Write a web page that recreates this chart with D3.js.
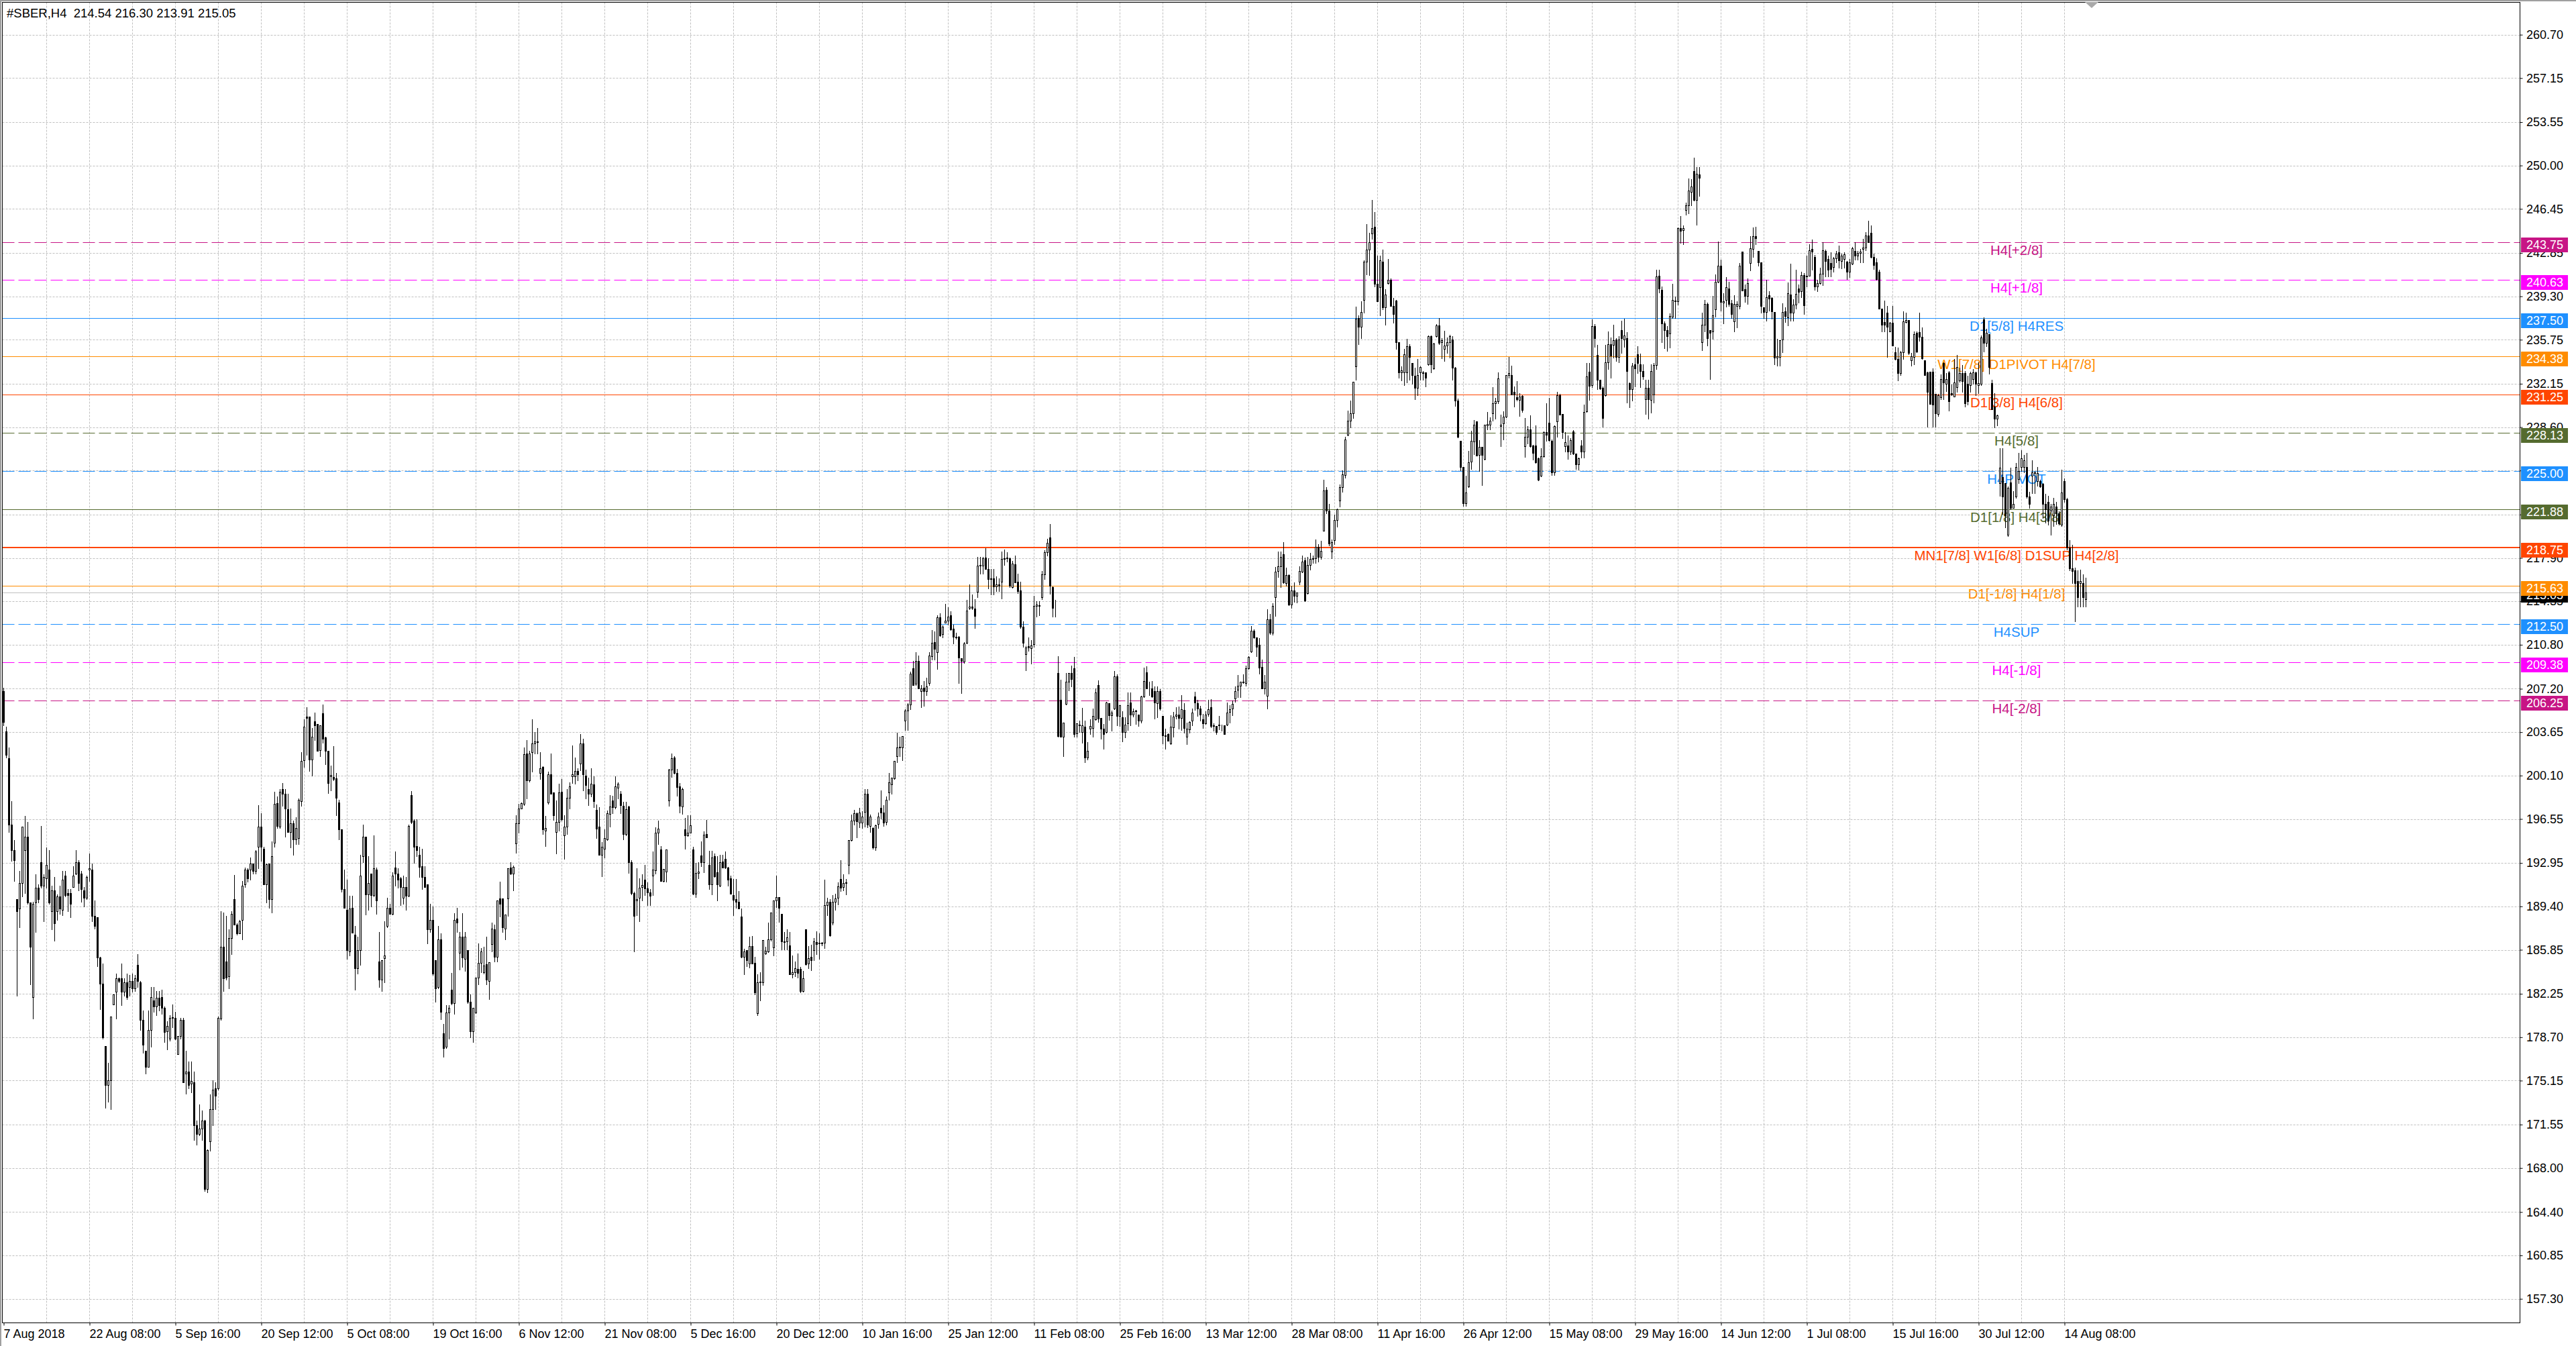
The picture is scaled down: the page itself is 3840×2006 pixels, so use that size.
<!DOCTYPE html>
<html>
<head>
<meta charset="utf-8">
<script src="https://d3js.org/d3.v7.min.js"></script>
<style>
body { margin: 0; background: #fff; }
text { font-family: "Liberation Sans", Arial, sans-serif; }
</style>
</head>
<body>
<div id="chart"></div>
<script>
// #SBER H4 bars, one row = 10 bars
var symbolName = "#SBER,H4";
var barOpen = [
207.0,203.7,201.5,196.1,194.0,190.0,189.2,191.3,194.0,195.1,
189.7,182.0,189.7,190.9,193.0,191.1,191.7,192.4,189.0,190.7,
189.0,190.2,189.1,191.9,190.5,190.5,191.0,192.1,193.0,192.1,
190.7,190.1,192.4,192.4,188.6,188.5,185.2,183.1,178.0,174.8,
175.2,181.4,182.4,183.5,183.5,182.4,183.2,182.8,183.3,182.7,
184.6,183.2,180.1,177.6,176.3,179.3,181.7,181.2,181.9,182.0,
181.1,179.2,178.6,180.3,180.3,177.3,178.8,180.1,175.7,175.9,
174.9,175.0,171.5,170.8,171.2,171.9,166.3,170.2,172.8,174.5,
174.5,180.2,186.1,184.9,183.7,186.8,190.0,187.9,187.2,188.3,
191.2,192.4,192.4,192.9,192.3,194.3,195.9,194.1,191.2,192.9,
190.0,194.6,197.85,195.9,199.0,198.6,197.35,195.5,196.2,194.9,
195.0,198.0,201.35,204.9,204.9,201.4,204.55,204.3,202.2,205.2,
203.2,202.1,200.05,200.0,199.9,197.9,195.7,190.8,189.1,185.7,
189.3,187.1,184.35,185.8,193.5,195.1,190.4,192.1,190.3,192.4,
184.9,183.4,185.15,187.8,189.3,188.8,192.6,192.1,191.7,190.1,
191.0,190.25,198.5,196.4,194.35,193.6,192.7,191.8,191.2,187.5,
188.3,185.0,182.8,186.7,179.0,177.9,180.7,182.6,181.5,188.4,
185.6,186.9,185.1,185.8,181.6,179.2,180.7,183.6,184.8,184.0,
184.65,183.3,186.3,187.55,185.3,190.06,190.06,187.6,190.06,192.56,
192.07,194.55,196.2,197.4,197.8,201.9,199.7,202.0,202.7,202.9,
200.3,200.8,195.6,197.9,200.2,198.7,195.5,196.3,198.8,195.2,
195.9,198.3,200.05,200.05,200.5,201.1,202.7,200.1,199.0,198.6,
199.4,197.3,195.9,193.6,194.1,194.9,196.95,198.05,197.5,199.1,
198.6,197.6,195.3,197.55,193.0,190.5,189.9,190.1,191.0,191.6,
190.85,190.55,191.9,192.35,195.45,194.05,191.5,192.25,198.05,200.6,
201.55,200.3,199.2,197.55,195.7,195.2,195.4,194.05,190.45,192.15,
193.55,193.0,195.3,192.8,191.2,193.5,192.2,191.1,193.05,193.3,
192.6,191.7,190.35,190.0,189.75,188.55,185.3,185.8,184.7,186.15,
184.8,180.65,183.2,183.2,185.55,185.7,186.7,186.05,189.9,190.15,
188.8,186.5,186.55,186.2,183.85,184.0,184.3,184.3,182.5,187.5,
184.7,185.3,185.8,186.5,186.35,186.4,186.4,189.5,189.8,188.1,
189.75,190.1,191.65,191.0,191.35,192.8,194.8,196.4,197.0,196.25,
196.25,197.15,198.6,196.0,195.8,194.2,196.15,197.45,197.05,196.3,
198.7,199.4,199.85,201.7,202.4,202.4,204.6,205.4,205.9,208.9,
207.6,209.5,207.0,207.3,207.0,207.65,209.85,211.0,210.2,213.05,
211.65,212.6,212.75,213.2,212.1,211.45,211.45,209.7,209.45,210.95,
213.8,213.95,213.75,215.15,217.3,217.25,217.95,217.0,216.15,216.25,
215.55,215.75,215.95,217.8,217.95,217.9,215.5,217.4,215.95,215.25,
212.3,210.05,210.7,210.5,210.85,214.0,214.0,214.7,216.55,218.35,
219.6,215.5,213.95,208.5,206.3,203.3,205.95,207.8,208.5,208.85,
203.55,204.25,203.65,204.1,201.55,203.95,204.0,204.7,207.5,204.8,
203.95,203.65,206.0,205.05,205.6,208.2,205.0,204.85,203.65,204.4,
206.1,205.1,205.4,205.1,204.6,206.55,208.55,207.25,207.25,207.0,
206.0,207.0,204.95,203.4,203.5,202.75,204.05,204.95,205.1,204.8,
205.45,203.25,203.9,204.6,206.55,206.0,205.6,204.7,204.4,205.15,
205.7,204.2,204.15,204.2,204.2,204.2,204.25,205.3,205.6,206.4,
207.1,207.45,207.7,207.65,208.85,210.25,211.95,211.4,210.8,209.0,
207.25,206.65,212.9,211.8,214.7,216.85,217.2,218.2,215.85,216.5,
214.1,215.25,214.8,215.95,216.8,217.7,215.0,217.35,217.8,217.85,
218.8,218.0,220.15,223.45,221.75,218.4,219.35,221.0,222.6,223.7,
224.7,228.0,229.15,229.75,233.55,237.5,236.8,239.0,242.15,243.1,
244.45,245.0,240.3,240.05,242.15,238.4,240.35,240.65,238.5,238.95,
235.55,233.05,233.05,233.05,235.2,233.85,232.8,231.8,233.05,233.05,
233.05,233.75,236.05,233.4,236.05,236.9,235.55,235.0,235.25,235.55,
235.75,233.45,230.75,227.5,225.35,222.4,223.75,225.8,227.45,229.05,
226.35,227.0,226.0,228.75,228.8,229.75,230.55,230.7,228.7,228.9,
229.45,232.85,232.85,231.5,231.05,230.8,231.15,227.05,227.8,228.4,
227.1,227.1,226.05,224.6,226.2,228.2,228.95,227.5,224.9,229.05,
231.2,229.7,227.05,227.1,226.6,228.25,226.45,225.55,227.1,226.6,
229.9,233.15,232.05,236.85,234.5,232.45,231.8,231.2,233.9,235.4,
235.35,235.75,234.35,236.55,235.75,235.9,232.2,231.7,233.75,234.55,
233.75,233.2,230.9,231.8,230.85,231.25,233.7,241.0,239.85,237.1,
236.55,236.25,237.65,238.9,238.9,244.85,244.7,246.35,246.75,247.85,
249.55,247.2,249.25,235.55,236.95,238.65,236.55,236.45,238.25,240.5,
241.8,238.8,239.0,239.95,238.75,237.25,238.5,238.5,242.95,239.9,
239.35,242.0,243.2,244.2,243.0,242.1,238.4,238.0,239.4,239.15,
238.0,234.3,234.35,235.75,238.05,237.6,239.45,237.95,238.6,239.95,
239.7,241.05,240.95,241.0,243.2,242.5,240.1,240.4,241.15,243.0,
242.35,242.0,241.7,242.4,242.9,242.2,242.35,242.15,241.3,241.95,
243.0,242.65,242.85,243.15,243.3,244.25,244.5,242.5,242.1,241.3,
238.3,237.2,237.95,236.45,237.15,234.75,234.15,233.0,234.75,237.2,
237.35,234.05,234.35,236.3,236.35,236.0,234.05,233.1,233.15,233.15,
231.3,229.65,231.05,233.85,232.15,233.1,231.35,231.1,231.85,232.4,
233.0,233.0,232.15,232.05,232.55,233.1,232.05,232.15,237.4,235.5,
236.2,232.2,230.3,229.3,224.0,224.5,224.02,219.79,224.08,221.99,
222.93,224.35,225.34,225.34,225.34,222.93,224.6,224.92,224.2,224.2,
223.98,222.3,222.51,221.78,221.36,222.1,221.57,220.63,224.2,222.72,
218.75,217.07,216.86,216.03,215.82,215.82,214.54
];
var barHigh = [
207.3,204.1,202.4,198.0,194.8,190.0,192.3,195.9,196.8,196.3,
189.7,189.8,192.0,191.2,196.0,192.0,194.2,194.0,191.1,191.8,
190.4,191.1,192.3,192.3,190.8,190.8,192.7,194.0,193.2,192.3,
191.0,191.9,193.7,192.9,189.9,188.5,185.3,184.7,178.0,176.6,
180.4,182.2,183.9,183.6,184.7,183.5,183.9,183.8,183.9,183.8,
185.5,183.3,180.9,177.6,180.9,182.8,182.8,182.5,182.5,182.6,
181.2,180.0,180.5,181.4,180.8,178.8,180.3,180.3,177.6,176.7,
176.7,175.9,171.9,173.2,172.7,171.95,169.5,174.0,175.2,175.0,
180.4,189.0,188.9,188.6,187.5,189.0,191.95,188.0,188.3,191.5,
192.6,192.5,193.4,192.9,194.0,197.7,197.0,194.3,192.9,192.9,
194.7,198.8,198.4,199.0,199.5,199.0,198.6,197.4,196.4,196.7,
198.2,202.0,204.7,205.7,204.9,204.0,205.25,204.3,204.2,205.9,
203.3,202.1,200.9,202.5,200.3,198.1,195.7,192.4,191.6,190.25,
190.25,187.8,186.9,193.6,196.1,195.1,193.5,192.1,195.2,192.6,
187.3,184.98,188.2,190.1,189.6,192.2,193.9,192.5,191.8,191.9,
191.8,196.1,198.85,196.5,196.5,194.3,194.1,192.7,191.2,189.6,
189.4,185.0,187.8,187.2,179.8,181.3,181.3,183.96,188.85,189.3,
187.3,188.85,187.3,185.8,182.2,181.1,183.6,186.35,186.0,186.1,
186.9,184.84,188.1,187.9,189.9,191.4,190.06,188.75,192.5,193.0,
192.75,196.85,197.8,197.9,202.4,203.0,202.1,204.7,203.65,204.0,
202.0,200.85,196.8,200.4,201.9,198.7,198.05,199.45,199.8,196.85,
199.0,199.55,202.55,201.55,200.7,203.5,203.1,200.6,199.95,200.7,
200.05,197.75,197.5,194.65,195.7,197.25,198.5,198.45,200.05,199.55,
198.85,197.95,197.95,197.6,193.15,190.6,192.5,191.7,192.0,192.8,
191.35,190.8,193.9,195.85,196.4,194.35,192.45,194.05,200.65,201.9,
201.7,200.65,199.5,199.1,196.65,196.85,196.85,194.25,192.95,193.0,
194.7,195.55,196.45,193.95,193.95,193.7,193.5,193.6,193.6,193.9,
192.65,191.9,191.65,191.65,190.65,189.2,185.95,185.8,186.9,187.0,
185.3,183.85,184.0,186.65,186.1,188.1,188.9,189.9,191.9,190.15,
188.8,187.3,187.5,187.3,185.4,184.9,185.55,184.45,184.1,187.5,
186.15,186.25,186.8,187.35,187.2,186.5,191.6,190.1,190.0,190.3,
190.45,191.35,193.15,192.0,191.65,194.85,196.9,197.3,197.05,197.45,
197.2,199.0,199.0,196.9,195.85,196.1,197.05,198.9,197.7,198.4,
200.3,199.95,201.3,203.6,203.3,203.35,205.5,206.0,208.6,209.5,
210.2,209.9,207.5,207.85,208.1,210.2,212.0,211.9,213.2,213.4,
212.4,214.15,213.85,213.55,212.45,211.8,211.5,209.7,211.0,214.45,
215.75,214.9,214.5,218.0,218.0,218.0,218.7,217.85,217.0,217.0,
216.4,216.25,218.45,218.6,218.35,217.95,217.65,218.1,216.6,215.95,
212.7,210.7,211.4,211.2,214.8,214.35,214.35,216.85,218.55,219.45,
220.65,215.55,214.45,209.85,207.95,204.45,208.5,208.5,209.1,209.8,
204.35,204.6,205.65,204.6,202.85,204.7,205.6,207.2,207.9,204.8,
204.3,206.15,206.0,205.4,208.65,208.4,205.85,205.35,204.85,206.9,
206.9,205.6,205.45,205.1,206.6,208.95,209.05,207.8,207.85,207.4,
207.4,207.15,204.95,203.95,203.55,205.05,205.3,205.7,205.75,206.7,
206.0,204.45,204.55,205.6,206.95,206.3,205.8,205.15,205.35,206.3,
206.35,204.4,204.15,204.95,204.25,204.2,206.1,205.85,206.25,207.4,
208.3,207.8,208.4,209.1,209.85,212.35,212.05,211.4,211.35,209.6,
208.3,213.7,213.3,214.2,217.15,218.45,218.45,219.2,217.1,216.55,
215.6,215.9,215.1,217.2,218.1,217.95,218.0,218.3,218.1,219.4,
219.0,219.3,224.3,223.7,222.3,219.4,221.45,221.95,223.9,225.05,
227.8,229.95,230.75,232.3,238.45,237.75,238.9,242.25,245.2,244.5,
247.2,246.2,242.65,242.6,243.1,239.9,242.35,240.75,239.15,239.0,
235.55,233.55,235.0,235.8,235.4,233.85,233.45,234.15,233.55,233.2,
233.1,236.1,236.1,235.5,237.05,237.55,235.9,236.5,235.95,236.15,
236.05,233.5,230.95,227.5,225.35,224.65,226.65,228.3,229.2,229.05,
227.55,227.0,228.8,229.85,229.4,231.85,231.0,233.05,229.6,229.9,
232.85,234.35,233.65,231.95,232.35,231.4,231.2,229.35,228.7,229.55,
227.15,228.75,226.1,226.85,228.25,230.55,231.0,227.6,228.75,231.5,
231.3,229.7,228.2,227.9,227.7,228.35,226.45,226.1,227.55,230.45,
233.85,233.85,237.4,237.05,235.35,232.5,231.95,235.35,236.45,235.95,
237.0,235.9,236.05,237.3,237.45,236.35,232.25,233.85,234.3,235.2,
234.6,233.75,232.45,232.45,233.75,233.85,241.5,241.5,240.1,237.25,
236.85,237.9,240.3,239.3,244.95,245.85,245.1,246.95,248.95,248.9,
250.65,249.85,249.85,237.95,239.0,238.8,236.55,239.35,241.1,243.8,
242.3,239.55,240.85,240.5,239.0,239.4,238.9,242.0,242.95,240.25,
240.75,244.2,244.95,245.0,243.0,242.1,238.4,240.65,239.7,239.25,
238.0,235.8,235.7,238.75,238.4,240.45,241.95,239.05,241.45,240.25,
241.3,241.2,242.6,243.55,243.95,242.7,240.65,241.65,243.75,243.1,
242.65,242.9,242.5,243.0,243.45,242.8,242.9,242.2,242.35,243.35,
243.7,243.0,243.15,244.0,244.55,245.5,245.1,242.8,242.4,241.45,
238.3,238.95,238.5,237.2,238.5,235.15,235.1,234.85,238.05,237.95,
237.35,234.65,236.45,236.45,237.95,236.75,234.05,233.15,233.15,233.4,
231.3,231.3,232.9,233.9,233.0,233.2,232.1,234.2,234.5,233.45,
233.7,233.2,232.8,233.15,233.35,233.15,233.9,236.1,237.6,236.65,
236.2,232.45,231.4,229.6,226.9,226.87,224.02,223.76,225.3,223.35,
225.65,226.5,226.7,226.3,226.49,223.3,225.9,225.0,225.34,224.3,
224.0,223.14,223.0,222.3,222.83,222.5,221.7,225.1,224.4,222.8,
219.37,218.96,217.1,216.86,216.96,216.54,216.30
];
var barLow = [
204.2,201.6,195.5,193.1,191.5,182.1,187.7,190.2,190.5,189.6,
183.0,180.2,187.3,189.7,190.9,188.2,190.9,189.6,187.5,186.6,
188.3,188.8,188.7,190.2,189.0,188.5,191.0,192.0,190.7,189.8,
189.4,190.0,191.5,188.2,187.6,184.5,181.0,178.6,172.9,173.4,
172.8,181.4,180.2,183.2,181.3,182.1,181.8,182.1,182.4,182.5,
182.8,179.3,177.4,175.7,176.3,177.9,180.8,180.5,180.9,180.6,
178.3,177.7,178.4,179.5,178.5,177.3,178.6,175.0,174.1,174.5,
174.2,170.3,169.9,170.7,170.3,166.1,166.0,169.4,171.5,172.8,
174.4,180.1,182.5,183.4,182.7,185.5,187.9,187.1,187.2,186.7,
191.0,191.4,191.6,192.1,192.1,192.5,193.1,191.2,189.7,189.3,
188.9,194.3,195.8,195.8,197.6,195.1,195.5,194.2,193.6,194.5,
194.5,197.6,200.8,201.8,200.5,200.1,203.0,202.1,201.7,202.8,
201.05,198.65,198.9,199.7,196.85,194.9,190.6,189.3,185.1,185.4,
187.25,182.6,183.9,184.6,193.0,188.75,189.1,189.4,190.2,188.8,
182.8,182.5,183.2,187.7,188.8,188.75,191.1,190.9,189.5,189.6,
189.1,190.2,196.2,192.95,193.5,191.8,190.8,191.0,186.35,187.3,
183.8,181.6,182.7,180.15,177.1,177.8,178.6,181.4,180.6,187.3,
184.25,184.45,184.1,181.5,178.7,178.3,180.65,183.0,184.0,183.9,
183.0,181.8,185.7,184.9,184.9,188.55,187.3,186.7,188.6,192.0,
190.7,193.8,195.4,197.4,197.7,198.2,199.6,200.4,201.9,201.9,
199.8,195.3,194.35,197.8,198.6,196.45,193.7,195.6,196.4,193.3,
195.3,197.4,199.5,199.45,199.7,200.55,198.9,198.2,197.7,198.4,
197.5,195.0,193.6,191.85,193.4,194.8,195.9,197.0,197.4,198.2,
197.0,194.9,195.2,192.15,190.4,185.7,188.7,188.2,189.9,190.3,
189.5,189.5,190.3,192.1,194.5,191.5,191.4,191.4,197.6,200.0,
200.25,198.45,197.1,196.95,194.1,195.15,195.4,190.4,190.15,191.7,
192.7,192.2,195.05,190.8,190.4,191.8,189.9,191.05,192.6,192.5,
191.1,190.45,188.65,189.3,189.2,185.2,183.85,184.5,184.4,184.75,
182.2,180.5,181.7,182.95,185.5,185.65,186.6,185.4,189.35,188.15,
185.9,185.9,185.9,183.85,183.6,183.7,183.6,182.35,182.4,184.6,
184.35,184.2,185.0,185.5,185.1,186.2,186.0,188.7,187.0,187.9,
189.1,189.55,190.65,190.7,190.4,192.1,194.75,196.1,195.05,195.85,
195.8,195.9,195.85,195.5,194.1,194.0,195.8,196.6,196.0,196.1,
198.1,198.6,199.8,201.2,201.7,201.35,203.85,203.85,205.5,207.5,
207.5,207.2,205.7,205.8,206.7,207.5,209.6,209.6,208.8,211.5,
211.4,212.6,212.45,212.0,210.9,211.3,207.65,206.85,209.3,210.9,
213.7,213.7,212.15,214.7,216.6,216.6,217.0,215.4,214.9,214.9,
215.2,215.2,214.6,217.3,217.6,215.5,215.45,215.9,215.0,212.15,
210.65,208.7,210.3,209.25,210.65,213.1,213.2,214.55,216.15,218.1,
214.95,213.1,213.1,203.3,203.25,201.7,205.9,207.05,207.4,203.3,
203.25,203.65,202.8,201.2,201.4,203.5,203.25,204.65,204.5,203.1,
202.3,203.6,204.65,203.75,205.55,204.2,204.15,202.9,203.2,203.85,
204.2,204.9,204.3,204.15,204.45,206.5,207.2,206.7,206.5,204.75,
204.85,205.45,202.75,202.3,202.95,202.65,203.25,204.75,203.95,203.8,
203.6,202.65,203.6,204.2,205.45,204.95,204.6,204.0,204.3,204.95,
204.05,203.75,203.5,203.9,203.75,203.5,204.2,204.45,205.05,206.15,
206.5,206.5,207.65,207.45,208.8,210.2,211.35,209.85,208.45,207.25,
206.8,205.6,211.7,211.6,213.15,216.35,215.5,215.85,215.6,214.05,
213.8,214.3,214.25,215.75,216.7,214.35,214.95,216.95,217.5,217.5,
217.6,217.8,220.1,221.55,218.9,217.9,219.0,220.45,222.1,223.3,
224.45,227.9,228.55,229.35,232.45,235.4,235.9,237.95,241.1,241.05,
244.0,240.1,238.9,237.75,238.25,236.95,240.3,238.5,237.15,235.0,
232.65,232.4,232.05,232.25,232.45,232.15,230.9,231.2,232.5,232.5,
231.9,233.7,233.1,233.35,236.0,235.4,234.25,234.0,234.65,234.3,
232.5,230.35,227.75,225.05,222.15,222.15,223.7,225.15,226.4,226.25,
225.0,223.85,225.95,228.4,228.4,229.15,229.3,230.55,227.05,227.6,
229.4,232.65,231.25,230.3,230.75,229.5,229.85,226.15,227.25,227.0,
225.95,225.65,224.25,224.55,226.15,227.5,227.5,224.7,224.7,227.8,
229.6,227.7,226.6,226.0,226.4,226.4,225.2,225.1,226.1,226.1,
229.85,230.8,231.85,235.15,231.7,231.7,228.65,231.15,233.35,232.65,
234.3,234.0,233.9,234.65,235.15,230.6,230.25,230.75,231.9,233.0,
231.85,232.55,229.65,229.3,229.8,230.6,233.35,239.6,235.55,235.05,
234.85,235.1,237.55,237.55,238.6,243.65,243.55,246.0,246.1,246.75,
247.15,245.15,247.5,234.9,236.4,235.3,232.55,235.8,237.65,240.45,
238.1,237.1,238.45,238.5,237.55,236.4,236.75,238.3,239.75,238.85,
238.7,241.4,242.5,243.55,241.8,237.95,237.5,237.3,238.15,237.45,
233.75,233.65,233.6,234.75,237.2,236.9,237.3,237.3,238.3,238.8,
239.2,237.85,240.1,241.0,241.45,239.85,239.7,240.3,240.2,240.9,
240.95,240.9,241.3,242.1,241.65,241.6,241.65,240.7,240.85,241.9,
242.3,242.3,242.1,242.1,243.05,243.7,242.45,241.55,240.65,238.3,
236.45,236.45,234.35,236.45,235.3,234.1,232.4,232.85,234.2,237.15,
234.55,233.6,233.75,234.75,235.65,234.15,232.85,228.65,230.5,228.65,
228.65,229.5,230.9,230.9,231.55,229.95,231.2,231.1,231.5,232.3,
231.5,230.3,230.45,231.5,232.15,231.2,231.35,232.05,234.8,235.2,
232.95,230.05,228.6,228.75,223.0,221.47,220.38,219.69,221.9,221.99,
222.83,224.0,225.0,224.9,222.83,221.99,223.2,223.2,223.8,223.7,
221.15,220.76,220.6,219.8,220.5,220.7,220.6,220.5,222.5,218.6,
216.86,215.82,212.7,213.93,213.93,213.93,213.91
];
var barClose = [
204.5,201.8,196.1,194.0,193.2,189.0,191.3,195.9,195.1,189.7,
186.1,189.6,190.9,190.0,191.1,191.8,192.8,189.7,190.7,188.0,
190.2,189.2,191.6,190.3,190.3,189.6,191.9,193.0,191.3,190.8,
190.1,191.8,192.5,188.6,187.8,185.2,183.1,178.7,174.8,175.2,
180.4,182.2,183.5,183.3,182.4,183.2,182.0,183.3,182.7,183.5,
183.3,180.1,178.1,176.3,179.3,182.0,181.2,181.9,181.3,181.1,
179.1,179.6,180.3,180.35,178.6,178.8,180.1,175.0,175.9,174.8,
175.1,171.5,170.8,171.2,171.9,166.3,169.45,172.8,174.4,173.9,
180.3,186.1,183.5,183.6,186.8,188.8,187.9,187.2,188.2,191.1,
192.4,191.7,192.9,192.3,193.9,195.9,194.3,191.2,192.85,190.0,
193.5,197.8,196.0,198.8,198.6,197.4,195.5,196.2,194.9,195.8,
198.1,201.3,204.1,204.8,201.4,203.3,204.2,202.1,204.2,203.1,
202.1,199.5,200.15,199.8,198.3,195.7,190.8,189.3,185.8,189.2,
187.25,184.35,185.8,191.9,195.1,190.4,191.3,190.3,192.5,189.9,
183.4,184.98,185.4,189.3,188.8,191.9,192.1,191.6,191.0,191.0,
190.25,196.0,196.3,194.3,194.0,192.65,191.8,191.0,187.5,188.3,
183.9,182.7,186.7,180.8,177.8,180.7,181.1,181.5,188.3,188.1,
186.9,185.2,186.9,181.6,179.2,181.1,183.6,184.8,185.7,184.55,
183.4,184.84,187.6,185.3,189.86,189.6,187.7,188.75,192.5,192.07,
192.65,196.2,197.4,197.85,201.85,199.7,201.9,202.7,202.9,202.85,
200.7,195.7,195.8,200.2,198.6,196.85,196.3,198.7,196.5,195.9,
198.3,199.2,200.2,200.5,200.2,202.7,200.2,199.3,198.6,199.45,
198.0,195.75,193.6,194.3,195.0,197.0,197.55,197.5,199.2,199.45,
197.7,195.3,197.35,193.0,190.5,188.6,190.0,190.95,191.15,190.85,
190.55,190.25,192.4,195.45,195.75,191.5,192.45,194.05,200.6,201.5,
200.3,199.15,197.6,199.0,195.2,195.45,196.05,190.45,192.15,192.25,
193.0,195.25,195.05,191.2,193.4,191.85,191.2,193.0,192.6,192.6,
191.6,190.45,189.95,189.8,189.2,185.3,185.7,185.0,186.15,184.75,
182.35,183.2,183.25,186.65,185.75,186.7,188.9,189.9,190.15,189.3,
186.55,186.55,186.85,183.85,184.0,184.35,183.95,182.45,183.5,184.65,
185.15,185.0,186.55,186.3,186.45,186.35,189.5,189.8,187.05,189.75,
190.05,191.05,190.95,191.3,191.3,194.8,196.4,197.0,196.35,197.05,
196.75,198.6,196.1,196.75,194.2,196.05,196.75,197.05,196.25,198.1,
199.55,199.95,201.3,202.4,202.45,203.35,205.4,205.9,208.45,207.5,
209.5,207.2,207.25,207.0,207.4,209.9,210.95,210.45,213.05,211.55,
212.3,212.75,213.1,212.05,211.45,211.4,209.75,209.5,210.9,213.6,
213.9,213.8,213.15,217.25,217.25,217.9,217.0,216.2,216.25,215.55,
215.75,215.6,217.8,217.85,217.85,215.6,217.45,215.9,215.2,212.3,
210.95,210.55,210.6,210.75,214.0,214.1,214.05,216.55,218.35,219.15,
215.6,213.8,213.9,203.35,203.25,204.45,207.75,208.5,208.0,203.5,
204.35,204.2,204.2,201.6,202.1,204.15,204.95,206.9,204.75,203.95,
203.5,206.05,205.05,205.25,208.2,204.95,205.85,203.65,204.25,205.85,
205.1,205.35,205.35,204.6,206.55,207.85,207.25,207.2,206.55,206.05,
207.0,205.6,203.4,203.35,202.95,204.1,204.9,205.1,204.8,205.5,
204.0,203.95,204.5,205.25,206.05,205.6,205.1,204.4,205.1,205.5,
204.15,204.15,203.65,204.25,204.2,203.5,205.25,205.5,205.95,207.0,
207.45,207.8,207.75,208.85,209.8,211.95,211.4,210.65,208.95,207.25,
207.75,212.9,211.8,214.0,216.8,217.2,218.0,215.9,216.5,214.1,
215.25,214.8,215.05,216.85,217.6,214.4,217.35,217.8,217.85,218.8,
218.0,218.5,223.4,221.75,219.1,219.2,221.0,221.9,223.7,224.75,
227.6,229.15,229.75,232.3,237.45,236.8,238.0,242.15,243.1,243.7,
244.9,240.3,238.9,242.25,238.4,239.45,240.65,238.5,237.85,235.55,
233.05,233.25,234.55,235.2,234.35,232.85,231.8,232.85,233.5,233.0,
232.65,236.05,233.75,235.45,236.9,235.5,235.7,235.25,235.55,236.05,
233.45,230.75,227.8,225.35,222.4,223.25,225.75,227.5,228.8,226.25,
227.0,226.35,228.8,228.85,229.15,230.55,230.7,232.6,228.8,229.45,
232.85,233.0,231.25,231.25,230.9,231.1,230.0,227.8,228.4,227.05,
226.5,225.7,224.3,226.2,228.2,227.95,227.55,224.9,228.7,231.2,
229.6,228.2,227.35,226.6,227.55,226.45,225.55,226.05,226.6,229.85,
232.75,232.0,236.85,235.9,232.45,231.75,229.35,233.9,235.4,234.45,
235.7,234.35,235.75,235.85,236.1,233.2,231.7,233.65,233.4,233.85,
233.2,232.75,231.8,230.9,233.2,233.7,240.95,239.95,237.1,236.55,
236.05,237.7,239.0,238.95,244.85,244.65,244.9,246.75,247.95,248.3,
247.2,249.35,249.0,236.95,238.65,235.9,236.3,237.75,240.5,241.8,
238.85,238.9,240.05,238.7,237.85,238.7,238.7,241.8,239.75,239.35,
240.4,243.25,244.2,244.05,242.1,238.5,238.0,239.25,239.1,238.05,
234.3,234.4,235.7,238.0,237.7,239.55,237.95,238.6,239.5,239.65,
241.05,238.55,241.0,243.05,242.95,240.1,240.4,241.15,243.05,242.2,
241.5,241.55,242.4,242.8,242.25,242.6,242.75,241.3,242.1,243.25,
242.65,242.85,242.95,243.3,244.25,243.7,242.5,241.85,240.7,238.3,
237.0,237.0,236.8,237.15,235.3,234.15,233.0,234.75,237.25,237.35,
234.65,234.4,236.2,234.8,236.0,234.25,232.85,231.5,230.5,230.45,
229.75,231.2,232.55,232.25,232.55,230.7,231.25,232.25,233.5,233.0,
232.35,230.55,230.7,233.0,233.1,232.15,232.2,235.95,235.5,236.3,
233.5,230.05,229.3,229.55,225.3,222.93,221.36,223.66,221.99,222.3,
225.34,225.03,226.07,225.9,222.93,222.3,224.92,224.82,224.82,223.77,
222.3,221.89,220.94,222.1,222.3,221.57,220.73,223.25,222.72,218.75,
217.07,216.82,215.82,214.67,216.03,214.67,215.05
];

// price scale labels and time scale labels (one label every 32 bars)
var priceTicks = [260.70, 257.15, 253.55, 250.00, 246.45, 242.85, 239.30, 235.75, 232.15, 228.60,
  225.05, 221.45, 217.90, 214.35, 210.80, 207.20, 203.65, 200.10, 196.55, 192.95,
  189.40, 185.85, 182.25, 178.70, 175.15, 171.55, 168.00, 164.40, 160.85, 157.30];
var timeLabels = ["7 Aug 2018", "22 Aug 08:00", "5 Sep 16:00", "20 Sep 12:00", "5 Oct 08:00",
  "19 Oct 16:00", "6 Nov 12:00", "21 Nov 08:00", "5 Dec 16:00", "20 Dec 12:00", "10 Jan 16:00",
  "25 Jan 12:00", "11 Feb 08:00", "25 Feb 16:00", "13 Mar 12:00", "28 Mar 08:00", "11 Apr 16:00",
  "26 Apr 12:00", "15 May 08:00", "29 May 16:00", "14 Jun 12:00", "1 Jul 08:00", "15 Jul 16:00",
  "30 Jul 12:00", "14 Aug 08:00"];

// murrey levels
var levelPrices = [243.75, 240.63, 237.50, 234.38, 231.25, 228.13, 225.00, 221.88, 218.75, 215.63, 212.50, 209.38, 206.25];
var levelNames = ["H4[+2/8]", "H4[+1/8]", "D1[5/8] H4RES", "W1[7/8] D1PIVOT H4[7/8]", "D1[3/8] H4[6/8]",
  "H4[5/8]", "H4PIVOT", "D1[1/8] H4[3/8]", "MN1[7/8] W1[6/8] D1SUP H4[2/8]", "D1[-1/8] H4[1/8]",
  "H4SUP", "H4[-1/8]", "H4[-2/8]"];
var bidPrice = 215.05;

// styles
var levelColors = ["#C71585", "#FF00FF", "#1E90FF", "#FF8C00", "#FF4500", "#556B2F", "#1E90FF",
  "#556B2F", "#FF4500", "#FF8C00", "#1E90FF", "#FF00FF", "#C71585"];
var levelDashed = [true, true, false, false, false, true, true, false, false, false, true, true, true];
var levelWidth = [1, 1, 1, 1, 1, 1, 1, 1, 2, 1, 1, 1, 1];

var W = 3840, H = 2006;
var fl = 3.5, ft = 3.5, fr = 3756.5, fb = 1971.5;
var axisFont = "18px";

var svg = d3.select("#chart").append("svg")
    .attr("width", W)
    .attr("height", H)
    .style("display", "block");

svg.append("rect").attr("width", W).attr("height", H).attr("fill", "#fff");

var bars = barOpen.map(function(o, i) {
  return {i: i, o: o, h: barHigh[i], l: barLow[i], c: barClose[i]};
});

var x = d3.scaleLinear().domain([0, 776]).range([5.5, 3109.5]);
var y = d3.scaleLinear().domain([157.30, 260.70]).range([1935.7, 51.7]);
function py(p) { return Math.round(y(p)) + 0.5; }

// grid
var grid = svg.append("g").attr("stroke", "#C0C0C0").attr("stroke-dasharray", "3,2");
grid.selectAll("line.h").data(priceTicks).enter().append("line")
    .attr("x1", fl).attr("x2", fr)
    .attr("y1", py).attr("y2", py);
grid.selectAll("line.v").data(d3.range(16, 777, 16)).enter().append("line")
    .attr("x1", function(d) { return x(d); }).attr("x2", function(d) { return x(d); })
    .attr("y1", ft).attr("y2", fb);

// levels
var lv = svg.append("g");
levelPrices.forEach(function(p, k) {
  var yy = levelWidth[k] == 2 ? Math.round(y(p)) : py(p);
  lv.append("line")
      .attr("x1", fl).attr("x2", fr).attr("y1", yy).attr("y2", yy)
      .attr("stroke", levelColors[k])
      .attr("stroke-width", levelWidth[k])
      .attr("stroke-dasharray", levelDashed[k] ? "18,6" : null);
  lv.append("text")
      .attr("x", 3006).attr("y", Math.round(y(p)) + 19)
      .attr("text-anchor", "middle")
      .attr("font-size", "20.5px")
      .attr("fill", levelColors[k])
      .text(levelNames[k]);
});

// bid line
svg.append("line")
    .attr("x1", fl).attr("x2", fr).attr("y1", py(bidPrice)).attr("y2", py(bidPrice))
    .attr("stroke", "#C0C0C0");

// candles
var cg = svg.append("g").attr("shape-rendering", "crispEdges");
cg.selectAll("line").data(bars).enter().append("line")
    .attr("x1", function(d) { return x(d.i); })
    .attr("x2", function(d) { return x(d.i); })
    .attr("y1", function(d) { return Math.round(y(d.h)); })
    .attr("y2", function(d) { return Math.round(y(d.l)) + 1; })
    .attr("stroke", "#000");
cg.selectAll("rect").data(bars).enter().append("rect")
    .attr("x", function(d) { return x(d.i) - 1; })
    .attr("width", 2)
    .attr("y", function(d) { return py(Math.max(d.o, d.c)); })
    .attr("height", function(d) { return py(Math.min(d.o, d.c)) - py(Math.max(d.o, d.c)); })
    .attr("fill", function(d) { return d.c >= d.o ? "#fff" : "#000"; })
    .attr("stroke", "#000");

// window border + frame
svg.append("rect").attr("x", 0).attr("y", 0).attr("width", W).attr("height", 2).attr("fill", "#A0A0A0");
svg.append("rect").attr("x", 0).attr("y", 0).attr("width", 2).attr("height", H).attr("fill", "#A0A0A0");
svg.append("rect")
    .attr("x", fl).attr("y", ft).attr("width", fr - fl).attr("height", fb - ft)
    .attr("fill", "none").attr("stroke", "#000");

// price axis
var yAxis = svg.append("g")
    .attr("transform", "translate(" + fr + ",0)")
    .call(d3.axisRight(y).tickValues(priceTicks).tickFormat(d3.format(".2f"))
      .tickSize(4).tickSizeOuter(0).tickPadding(5.5));
yAxis.select(".domain").remove();
yAxis.selectAll("text").attr("font-size", axisFont).attr("font-family", null).attr("fill", "#000");

// time axis
var xAxis = svg.append("g")
    .attr("transform", "translate(0," + fb + ")")
    .call(d3.axisBottom(x).tickValues(timeLabels.map(function(t, k) { return k * 32; }))
      .tickFormat(function(d, k) { return timeLabels[k]; })
      .tickSize(4).tickSizeOuter(0).tickPadding(5.5));
xAxis.select(".domain").remove();
xAxis.selectAll("text").attr("font-size", axisFont).attr("font-family", null)
    .attr("fill", "#000").attr("text-anchor", "start").attr("x", -0.5);

// bid label then level labels on the price axis
function priceBox(p, fill) {
  var yy = Math.round(y(p));
  svg.append("rect").attr("x", 3758).attr("y", yy - 7).attr("width", 70).attr("height", 22).attr("fill", fill);
  svg.append("text").attr("x", 3766).attr("y", yy + 4).attr("dy", "0.35em")
      .attr("font-size", axisFont).attr("fill", "#fff").text(p.toFixed(2));
}
priceBox(bidPrice, "#000");
levelPrices.forEach(function(p, k) { priceBox(p, levelColors[k]); });

// header
var last = bars[bars.length - 1];
svg.append("text").attr("x", 10).attr("y", 26).attr("font-size", "18.5px").attr("fill", "#000")
    .attr("xml:space", "preserve")
    .text(symbolName + "  " + [last.o, last.h, last.l, last.c].map(function(v) { return v.toFixed(2); }).join(" "));

// chart shift marker
svg.append("path").attr("d", "M3108,3 L3128,3 L3118,12 Z").attr("fill", "#A9A9A9");
</script>
</body>
</html>
